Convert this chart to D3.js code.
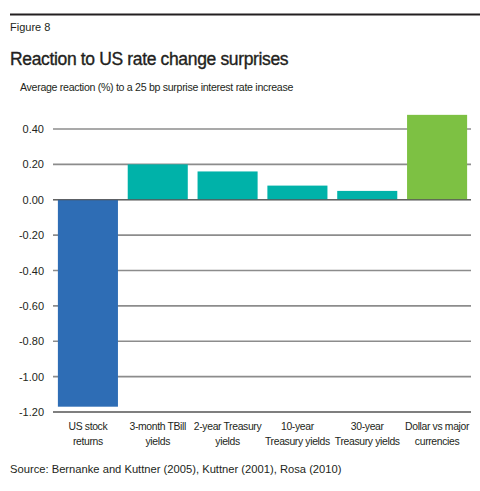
<!DOCTYPE html>
<html><head><meta charset="utf-8">
<script src="https://cdn.jsdelivr.net/npm/d3@7"></script>
<style>body{margin:0;background:#fff;} svg{display:block;font-family:"Liberation Sans",Arial,sans-serif;}</style>
</head><body>
<script>
const categories = [["US stock","returns"],["3-month TBill","yields"],["2-year Treasury","yields"],["10-year","Treasury yields"],["30-year","Treasury yields"],["Dollar vs major","currencies"]];
const values = [-1.17, 0.20, 0.16, 0.08, 0.05, 0.48];
const barColors = ["#2e6db5","#00b2a9","#00b2a9","#00b2a9","#00b2a9","#7dc143"];
const yTicks = [0.4,0.2,0,-0.2,-0.4,-0.6,-0.8,-1.0,-1.2];

const W=480,H=491;
const svg=d3.select("body").append("svg").attr("width",W).attr("height",H);
svg.append("line").attr("x1",10).attr("x2",480).attr("y1",14.5).attr("y2",14.5).attr("stroke","#231f20").attr("stroke-width",2);
svg.append("text").attr("x",10).attr("y",31).attr("font-size",11).attr("fill","#231f20").text("Figure 8");
svg.append("text").attr("x",10).attr("y",65).attr("font-size",17.5).attr("letter-spacing","-0.35")
 .attr("fill","#231f20").attr("stroke","#231f20").attr("stroke-width",0.35).text("Reaction to US rate change surprises");
svg.append("text").attr("x",20).attr("y",91).attr("font-size",10.6).attr("fill","#231f20").attr("letter-spacing","-0.3").text("Average reaction (%) to a 25 bp surprise interest rate increase");

const x=d3.scaleBand().domain(d3.range(categories.length)).range([53,472]).paddingInner(0.14).paddingOuter(0.07);
const y=d3.scaleLinear().domain([-1.2,0.4]).range([412,129]);

const g=svg.append("g");
g.selectAll("line.grid").data(yTicks).join("line").attr("class","grid")
 .attr("x1",53).attr("x2",471).attr("y1",d=>y(d)).attr("y2",d=>y(d))
 .attr("stroke",d=>d===-1.2?"#555":"#8c8c8c").attr("stroke-width",1.6);
g.selectAll("text.yl").data(yTicks).join("text").attr("class","yl")
 .attr("x",44).attr("y",d=>y(d)+4).attr("text-anchor","end").attr("font-size",11).attr("fill","#231f20")
 .text(d=>d3.format(".2f")(d).replace("−","-"));

g.selectAll("rect.bar").data(values).join("rect").attr("class","bar")
 .attr("x",(d,i)=>x(i)).attr("width",x.bandwidth())
 .attr("y",d=>y(Math.max(0,d))).attr("height",d=>Math.abs(y(d)-y(0)))
 .attr("fill",(d,i)=>barColors[i]);

g.append("line").attr("x1",53).attr("x2",471).attr("y1",y(0)).attr("y2",y(0)).attr("stroke","#555").attr("stroke-width",1.2);

const xl=g.selectAll("text.xl").data(categories).join("text").attr("class","xl")
 .attr("text-anchor","middle").attr("font-size",10.4).attr("fill","#231f20").attr("letter-spacing","-0.35");
xl.each(function(d,i){
  const t=d3.select(this);
  d.forEach((s,j)=>t.append("tspan").attr("x",x(i)+x.bandwidth()/2).attr("y",430+j*15).text(s));
});

svg.append("text").attr("x",10).attr("y",473).attr("font-size",11.2).attr("fill","#231f20").text("Source: Bernanke and Kuttner (2005), Kuttner (2001), Rosa (2010)");
</script>
</body></html>
